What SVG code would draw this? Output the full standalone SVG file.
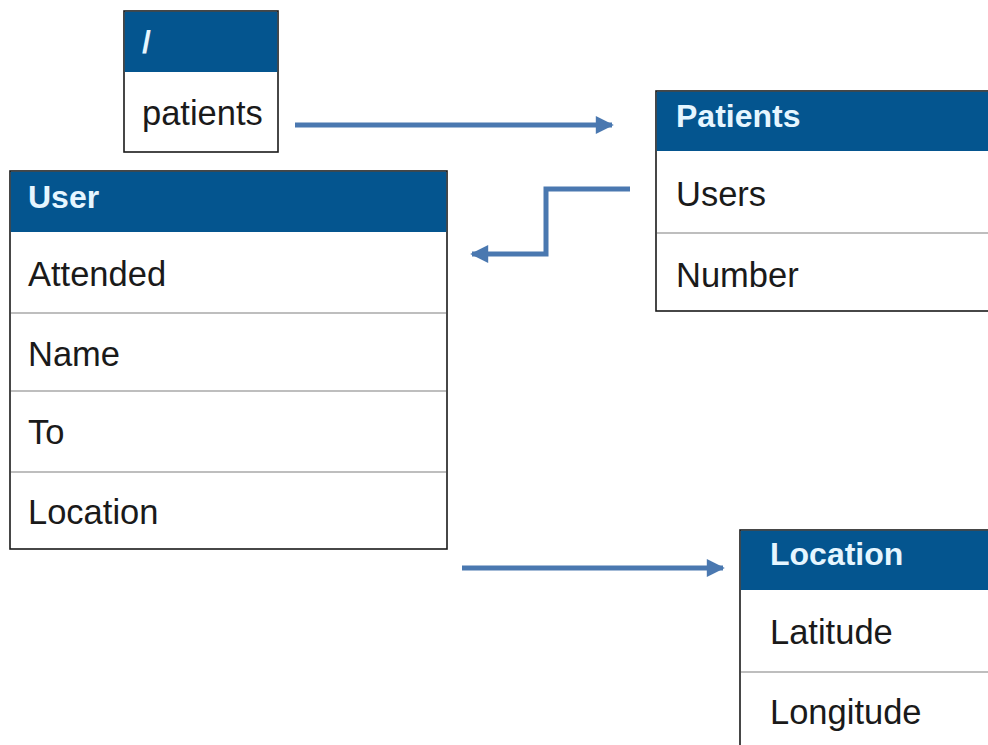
<svg xmlns="http://www.w3.org/2000/svg" width="988" height="745" viewBox="0 0 988 745">
<style>
.box{fill:#fff;stroke:#1a1a1a;stroke-width:1.6}
.hdr{fill:#04558f}
.div{stroke:#a9a9a9;stroke-width:1.5}
.ht{font-family:"Liberation Sans",Arial,sans-serif;font-weight:bold;font-size:32px;fill:#e6f6ff}
.t{font-family:"Liberation Sans",Arial,sans-serif;font-size:34.5px;fill:#1a1a1a}
.c{fill:none;stroke:#4a78b0;stroke-width:5}
</style>
<defs>
<marker id="ah" viewBox="0 0 10 10" refX="9" refY="5" markerWidth="4" markerHeight="3.6" orient="auto-start-reverse" markerUnits="strokeWidth">
<path d="M0,0 L10,5 L0,10 z" fill="#4a78b0"/>
</marker>
</defs>
<rect width="988" height="745" fill="#fff"/>
<g id="root">
<rect class="box" x="124" y="11" width="154" height="141"/>
<rect class="hdr" x="124.8" y="11.8" width="152.4" height="60.2"/>
<text class="ht" x="142" y="53">/</text>
<text class="t" x="142" y="125">patients</text>
</g>
<g id="patients">
<rect class="box" x="656" y="91" width="340" height="220"/>
<rect class="hdr" x="656.8" y="91.8" width="340" height="59.2"/>
<line class="div" x1="657" y1="233" x2="990" y2="233"/>
<text class="ht" x="676" y="127">Patients</text>
<text class="t" x="676" y="206">Users</text>
<text class="t" x="676" y="287">Number</text>
</g>
<g id="user">
<rect class="box" x="10" y="171" width="437" height="378"/>
<rect class="hdr" x="10.8" y="171.8" width="435.4" height="60.2"/>
<line class="div" x1="11" y1="313" x2="446" y2="313"/>
<line class="div" x1="11" y1="391" x2="446" y2="391"/>
<line class="div" x1="11" y1="472" x2="446" y2="472"/>
<text class="ht" x="28" y="208">User</text>
<text class="t" x="28" y="286">Attended</text>
<text class="t" x="28" y="366">Name</text>
<text class="t" x="28" y="444">To</text>
<text class="t" x="28" y="524">Location</text>
</g>
<g id="location">
<rect class="box" x="740" y="530" width="260" height="230"/>
<rect class="hdr" x="740.8" y="530.8" width="260" height="59.2"/>
<line class="div" x1="741" y1="672" x2="990" y2="672"/>
<text class="ht" x="770" y="565">Location</text>
<text class="t" x="770" y="644">Latitude</text>
<text class="t" x="770" y="724">Longitude</text>
</g>
<g id="connectors">
<path class="c" d="M295,125 L612,125" marker-end="url(#ah)"/>
<path class="c" d="M630,189 L546,189 L546,254 L472,254" marker-end="url(#ah)"/>
<path class="c" d="M462,568 L723,568" marker-end="url(#ah)"/>
</g>
</svg>
